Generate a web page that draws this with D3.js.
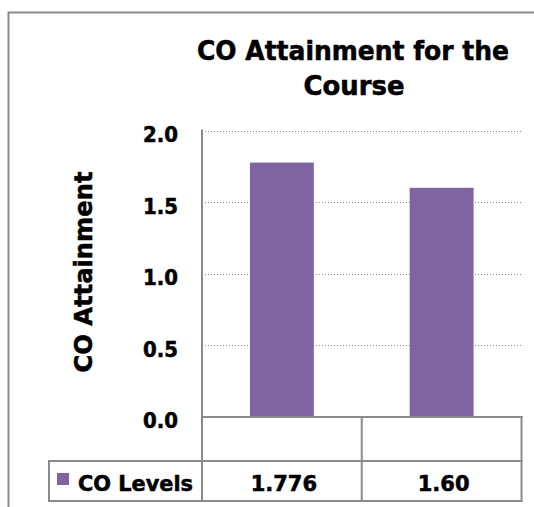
<!DOCTYPE html>
<html>
<head>
<meta charset="utf-8">
<script src="https://cdn.jsdelivr.net/npm/d3@7"></script>
<style>
  html, body { margin: 0; padding: 0; background: #fff; }
  svg { display: block; }
  text { font-family: "DejaVu Sans", Verdana, sans-serif; font-weight: bold; fill: #000; stroke: #000; stroke-width: 0.55px; }
</style>
</head>
<body>
<script>
// ---- data ----
const titleLines = ["CO Attainment for the", "Course"];
const yAxisTitle = "CO Attainment";
const seriesName = "CO Levels";
const categories = ["", ""];
const values = [1.776, 1.60];
const valueLabels = ["1.776", "1.60"];
const yTicks = [0, 0.5, 1.0, 1.5, 2.0];

const W = 534, H = 507;
const purple = "#8064A2";
const grey = "#8a8a8a";

const svg = d3.select("body").append("svg").attr("width", W).attr("height", H);

// outer chart border (top + left visible)
svg.append("path")
  .attr("d", `M8.5,507 L8.5,12.5 L534,12.5`)
  .attr("fill", "none").attr("stroke", grey).attr("stroke-width", 2);

// title
svg.append("text").attr("x", 353).attr("y", 60).attr("text-anchor", "middle")
  .style("font-size", "27px").attr("textLength", 312).attr("lengthAdjust", "spacingAndGlyphs")
  .text(titleLines[0]);
svg.append("text").attr("x", 354).attr("y", 95).attr("text-anchor", "middle")
  .style("font-size", "27px").attr("textLength", 101).attr("lengthAdjust", "spacingAndGlyphs")
  .text(titleLines[1]);

// scales
const plotLeft = 202, plotRight = 521.5, plotTop = 130.5, plotBottom = 417;
const idx = categories.map((c, i) => i);
const x = d3.scaleBand().domain(idx).range([plotLeft, plotRight])
  .paddingInner(0.6).paddingOuter(0.3);
const y = d3.scaleLinear().domain([0, 2]).range([plotBottom, plotTop]);

// gridlines
svg.append("g").selectAll("line").data(yTicks.filter(d => d > 0)).join("line")
  .attr("x1", plotLeft).attr("x2", plotRight)
  .attr("y1", d => Math.round(y(d)) + 0.5).attr("y2", d => Math.round(y(d)) + 0.5)
  .attr("stroke", grey).attr("stroke-width", 1).attr("stroke-dasharray", "1,2");

// bars
svg.append("g").selectAll("rect").data(values).join("rect")
  .attr("x", (d, i) => x(i)).attr("width", x.bandwidth())
  .attr("y", d => y(d)).attr("height", d => y(0) - y(d))
  .attr("fill", purple);

// y axis with d3 axis, then restyle
const yAxis = d3.axisLeft(y).tickValues(yTicks).tickFormat(d3.format(".1f")).tickSize(0).tickPadding(24);
const gy = svg.append("g").attr("transform", `translate(${plotLeft},0)`).call(yAxis);
gy.select(".domain").remove();
gy.selectAll("text").style("font-size", "21px").style("font-family", "DejaVu Sans, sans-serif")
  .style("font-weight", "bold").attr("dy", "0.52em").attr("fill", "#000")
  .attr("stroke", "#000").attr("stroke-width", 0.55)
  .attr("textLength", 35).attr("lengthAdjust", "spacingAndGlyphs");

// axis title
svg.append("text").attr("transform", `translate(92,272) rotate(-90)`)
  .attr("text-anchor", "middle").style("font-size", "25px")
  .attr("textLength", 201).attr("lengthAdjust", "spacingAndGlyphs").text(yAxisTitle);

// data table
const rowTop = plotBottom, rowMid = 461, rowBot = 501, legLeft = 49;
const midCol = (x(0) + x.bandwidth() + x(1)) / 2;
const lines = [
  [plotLeft, plotTop, plotLeft, rowBot],          // value axis continuing into table
  [plotLeft, rowTop, plotRight, rowTop],           // category axis
  [plotRight, rowTop, plotRight, rowBot],
  [midCol, rowTop, midCol, rowBot],
  [legLeft, rowMid, plotRight, rowMid],
  [legLeft, rowBot, plotRight, rowBot],
  [legLeft, rowMid, legLeft, rowBot]
];
svg.append("g").selectAll("line").data(lines).join("line")
  .attr("x1", d => d[0]).attr("y1", d => d[1]).attr("x2", d => d[2]).attr("y2", d => d[3])
  .attr("stroke", grey).attr("stroke-width", 2).attr("stroke-linecap", "square");

// category labels (empty in reference)
svg.append("g").selectAll("text").data(categories).join("text")
  .attr("x", (d, i) => x(i) + x.bandwidth() / 2).attr("y", 446)
  .attr("text-anchor", "middle").style("font-size", "20px").text(d => d);

// legend key + series name
svg.append("rect").attr("x", 57).attr("y", 473).attr("width", 12).attr("height", 12).attr("fill", purple);
svg.append("text").attr("x", 78).attr("y", 491).style("font-size", "21px")
  .attr("textLength", 115).attr("lengthAdjust", "spacingAndGlyphs").text(seriesName);

// values row
svg.append("g").selectAll("text").data(valueLabels).join("text")
  .attr("x", (d, i) => x(i) + x.bandwidth() / 2 + 2).attr("y", 491)
  .attr("text-anchor", "middle").style("font-size", "21px").text(d => d);
</script>
</body>
</html>
